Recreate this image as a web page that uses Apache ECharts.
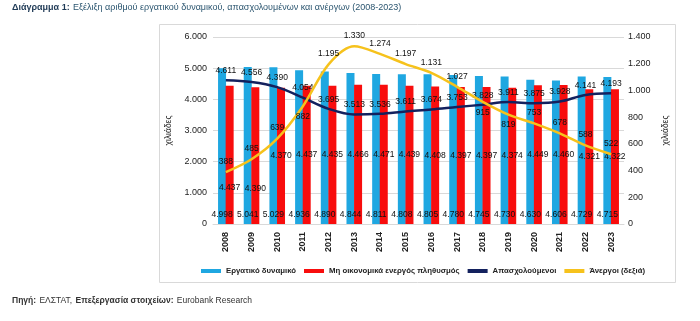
<!DOCTYPE html>
<html>
<head>
<meta charset="utf-8">
<script src="https://cdn.jsdelivr.net/npm/echarts@6/dist/echarts.min.js"></script>
<style>
  html, body { margin: 0; padding: 0; background: #fff; }
  #chart { width: 700px; height: 321px; }
</style>
</head>
<body>
<div id="chart"></div>
<script>
// Labour force, inactive population, employed and unemployed (thousands), 2008-2023
const years = ['2008','2009','2010','2011','2012','2013','2014','2015','2016','2017','2018','2019','2020','2021','2022','2023'];
const laborForce = [4998, 5041, 5029, 4936, 4890, 4844, 4811, 4808, 4805, 4780, 4745, 4730, 4630, 4606, 4729, 4715];
const inactive   = [4437, 4390, 4370, 4437, 4435, 4466, 4471, 4439, 4408, 4397, 4397, 4374, 4449, 4460, 4321, 4322];
const employed   = [4611, 4556, 4390, 4054, 3695, 3513, 3536, 3611, 3674, 3753, 3828, 3911, 3875, 3928, 4141, 4193];
const unemployed = [388, 485, 639, 882, 1195, 1330, 1274, 1197, 1131, 1027, 915, 819, 753, 678, 588, 522];

const leftTicks = { min: 0, max: 6000, step: 1000 };
const rightTicks = { min: 0, max: 1400, step: 200 };

const seriesNames = ['Εργατικό δυναμικό', 'Μη οικονομικά ενεργός πληθυσμός', 'Απασχολούμενοι', 'Άνεργοι (δεξιά)'];

const FONT = '"Liberation Sans", Arial, sans-serif';

// thousands separator as a dot
function fmt(v) {
  return String(Math.round(v)).replace(/\B(?=(\d{3})+(?!\d))/g, '.');
}

const labelStyle = { color: '#111', fontSize: 8.5, fontFamily: FONT };

// Inactive-population labels sit mid-bar, the first two are pushed lower
const inactiveData = inactive.map((v, i) => (i < 2
  ? { value: v, label: { offset: [0, 33] } }
  : v));

// Unemployed labels: above the curve, except where it crosses other labels
const belowIdx = [3, 10, 11];
const unemployedData = unemployed.map((v, i) => (belowIdx.includes(i)
  ? { value: v, label: { position: 'bottom' } }
  : v));

const chart = echarts.init(document.getElementById('chart'), null, { renderer: 'canvas' });

chart.setOption({
  animation: false,
  backgroundColor: '#fff',
  textStyle: { fontFamily: FONT },
  graphic: [
    {
      type: 'rect',
      shape: { x: 159.5, y: 24.5, width: 516, height: 258 },
      style: { fill: 'none', stroke: '#d9d9d9', lineWidth: 1 },
      silent: true
    },
    {
      type: 'text',
      left: 12, top: 2,
      style: {
        text: '{b|Διάγραμμα 1:} {n|Εξέλιξη αριθμού εργατικού δυναμικού, απασχολουμένων και ανέργων (2008-2023)}',
        rich: {
          b: { fontFamily: FONT, fontSize: 9, fontWeight: 'bold', fill: '#1f3a56' },
          n: { fontFamily: FONT, fontSize: 9, fill: '#2c5670' }
        }
      }
    },
    {
      type: 'text',
      left: 12, top: 295,
      style: {
        text: '{b|Πηγή:} {n|ΕΛΣΤΑΤ,} {b|Επεξεργασία στοιχείων:} {n|Eurobank Research}',
        rich: {
          b: { fontFamily: FONT, fontSize: 8.5, fontWeight: 'bold', fill: '#333' },
          n: { fontFamily: FONT, fontSize: 8.5, fill: '#333' }
        }
      }
    }
  ],
  legend: {
    left: 196, top: 262,
    itemWidth: 20, itemHeight: 4, itemGap: 8,
    icon: 'rect',
    textStyle: { fontFamily: FONT, fontSize: 7.8, fontWeight: 'bold', color: '#222' },
    data: seriesNames
  },
  grid: { left: 213, right: 76, top: 37, bottom: 97 },
  xAxis: {
    type: 'category',
    data: years,
    axisLine: { show: true, lineStyle: { color: '#d9d9d9' } },
    axisTick: { show: false },
    axisLabel: { rotate: 90, fontSize: 9, fontWeight: 'bold', color: '#222', margin: 8 }
  },
  yAxis: [
    {
      type: 'value',
      min: leftTicks.min, max: leftTicks.max, interval: leftTicks.step,
      name: 'χιλιάδες', nameLocation: 'middle', nameGap: 29,
      nameTextStyle: { fontSize: 8.5, color: '#222' },
      axisLine: { show: false }, axisTick: { show: false },
      axisLabel: { formatter: fmt, fontSize: 9, color: '#222', margin: 6 },
      splitLine: { lineStyle: { color: '#d9d9d9' } }
    },
    {
      type: 'value',
      min: rightTicks.min, max: rightTicks.max, interval: rightTicks.step,
      name: 'χιλιάδες', nameLocation: 'middle', nameGap: 29,
      nameTextStyle: { fontSize: 8.5, color: '#222' },
      axisLine: { show: false }, axisTick: { show: false },
      axisLabel: { formatter: fmt, fontSize: 9, color: '#222', margin: 4 },
      splitLine: { show: false }
    }
  ],
  series: [
    {
      name: seriesNames[0], type: 'bar', data: laborForce,
      barWidth: 8, barGap: '-5%',
      itemStyle: { color: '#1fa7e1' },
      label: { show: true, position: 'insideBottom', formatter: p => fmt(p.value), ...labelStyle },
      z: 2
    },
    {
      name: seriesNames[1], type: 'bar', data: inactiveData,
      barWidth: 8,
      itemStyle: { color: '#f80d0d' },
      label: { show: true, position: 'inside', formatter: p => fmt(p.value), ...labelStyle },
      z: 2
    },
    {
      name: seriesNames[2], type: 'line', data: employed,
      smooth: 0.35, symbol: 'circle', symbolSize: 0, showSymbol: true,
      lineStyle: { color: '#13215e', width: 2.5 },
      itemStyle: { color: '#13215e' },
      label: { show: true, position: 'top', distance: 5, formatter: p => fmt(p.value), ...labelStyle },
      z: 4
    },
    {
      name: seriesNames[3], type: 'line', yAxisIndex: 1, data: unemployedData,
      smooth: 0.3, symbol: 'circle', symbolSize: 0, showSymbol: true,
      lineStyle: { color: '#f6c21c', width: 2.5 },
      itemStyle: { color: '#f6c21c' },
      label: { show: true, position: 'top', distance: 6, formatter: p => fmt(p.value), ...labelStyle },
      z: 5
    }
  ]
});
</script>
</body>
</html>
